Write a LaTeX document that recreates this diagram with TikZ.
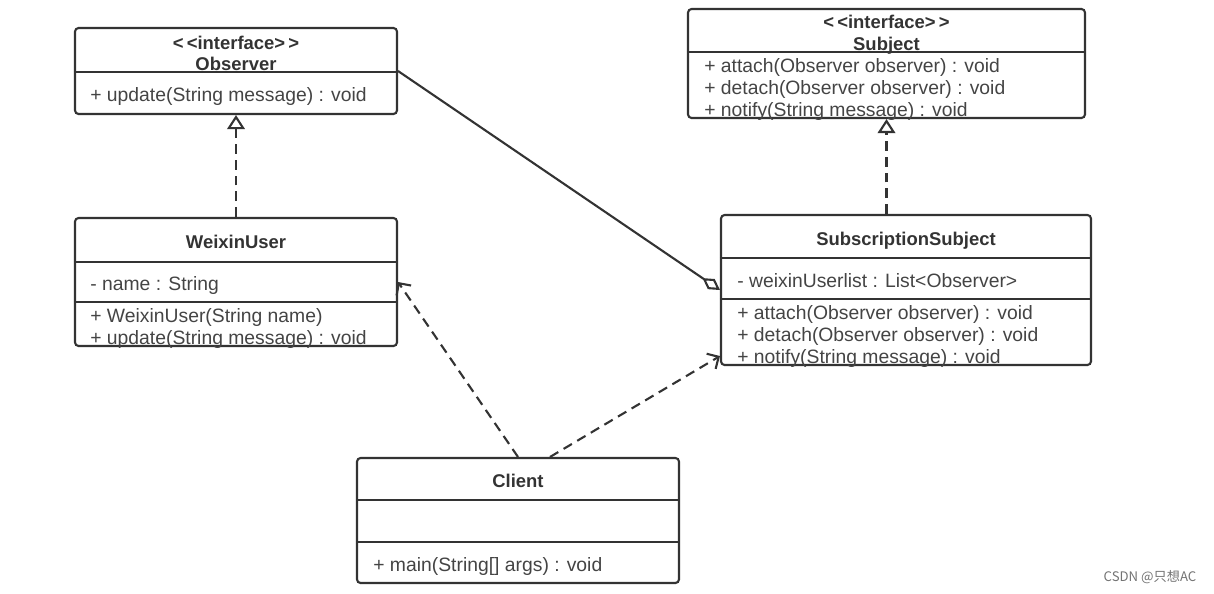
\documentclass[tikz,border=0pt]{standalone}
\usepackage{fontspec}
\setmainfont{Liberation Sans}
\newfontfamily\cjk{Noto Sans CJK SC}
\usetikzlibrary{arrows.meta}
\definecolor{umlline}{HTML}{333333}
\definecolor{umltext}{HTML}{444444}

\begin{document}
\begin{tikzpicture}[x=0.02cm,y=-0.02cm]

        \tikzstyle{classbox}=[draw=umlline,rectangle,rounded corners=2pt,line width=1.2pt,inner sep=0pt]
        \tikzstyle{title}=[inner sep=0pt,yshift=-1.2pt,text=umlline,font=\fontsize{10.5}{12}\selectfont\bfseries,text height=8pt,text depth=2.5pt]
        \tikzstyle{member}=[anchor=west,inner sep=0pt,yshift=-1.2pt,text=umltext,font=\fontsize{11}{13}\selectfont,text height=8pt,text depth=2.5pt]
        \tikzstyle{divider}=[draw=umlline,line width=1.2pt]
        \tikzstyle{realize}=[draw=umlline,line width=1.2pt,dash pattern=on 5.5pt off 3.5pt,-{Triangle[open,length=8pt,width=10pt]}]
        \tikzstyle{depend}=[draw=umlline,line width=1.2pt,dash pattern=on 5.5pt off 3.5pt,-{Straight Barb[length=5pt,width=10pt]}]
        \tikzstyle{aggr}=[draw=umlline,line width=1.2pt,-{Diamond[open,length=12pt,width=7pt]}]

        \useasboundingbox (0,0) rectangle (1214,593);

        % class boxes
        \node[classbox,minimum width=6.44cm,minimum height=1.72cm] (obs) at (236,71) {};
        \node[classbox,minimum width=7.94cm,minimum height=2.18cm] (subj) at (886.5,63.5) {};
        \node[classbox,minimum width=6.44cm,minimum height=2.56cm] (wx) at (236,282) {};
        \node[classbox,minimum width=7.40cm,minimum height=3.00cm] (sub) at (906,290) {};
        \node[classbox,minimum width=6.44cm,minimum height=2.50cm] (cl) at (518,520.5) {};

        % compartments
        \foreach \b / \y in {obs/72,subj/52,wx/262,wx/302,sub/258,sub/299,cl/500,cl/542} {
            \draw[divider] (\b.west |- 0,\y) -- (\b.east |- 0,\y);
        }

        % titles
        \node[title] (obs_st) at (236,43) {{<}\,{<}interface{>}\,{>}};
        \node[title] (obs_t) at (236,64) {Observer};
        \node[title] (subj_st) at (886.5,22) {{<}\,{<}interface{>}\,{>}};
        \node[title] (subj_t) at (886.5,44) {Subject};
        \node[title] (wx_t) at (236,242) {WeixinUser};
        \node[title] (sub_t) at (906,239) {SubscriptionSubject};
        \node[title] (cl_t) at (518,481) {Client};

        % members
        \node[member] (obs_m1) at (90,95) {+ update(String message) : void};
        \foreach \i / \y / \txt in {1/66/{+ attach(Observer observer) : void},2/88/{+ detach(Observer observer) : void},3/110/{+ notify(String message) : void}} {
            \node[member] (subj_m\i) at (704,\y) {\txt};
        }
        \node[member] (wx_a1) at (90,284) {- name : String};
        \node[member] (wx_m1) at (90,316) {+ WeixinUser(String name)};
        \node[member] (wx_m2) at (90,338) {+ update(String message) : void};
        \node[member] (sub_a1) at (737,281) {- weixinUserlist : List<Observer>};
        \foreach \i / \y / \txt in {1/313/{+ attach(Observer observer) : void},2/335/{+ detach(Observer observer) : void},3/357/{+ notify(String message) : void}} {
            \node[member] (sub_m\i) at (737,\y) {\txt};
        }
        \node[member] (cl_m1) at (373,565) {+ main(String[] args) : void};

        % relations
        \draw[realize] (wx.north) -- (obs.south);
        \draw[realize] (subj.south |- sub.north) -- (subj.south);
        \draw[aggr] (obs.east) -- (sub.west);
        \draw[depend] (cl.north) -- (wx.east);
        \draw[depend] ([xshift=0.64cm]cl.north) -- ([yshift=0.2cm]sub.south west);

        \node[inner sep=0pt,text=black!55,font=\cjk\fontsize{7.5}{9}\selectfont] (mark) at (1150,577) {CSDN @只想AC};

    \end{tikzpicture}
\end{document}
